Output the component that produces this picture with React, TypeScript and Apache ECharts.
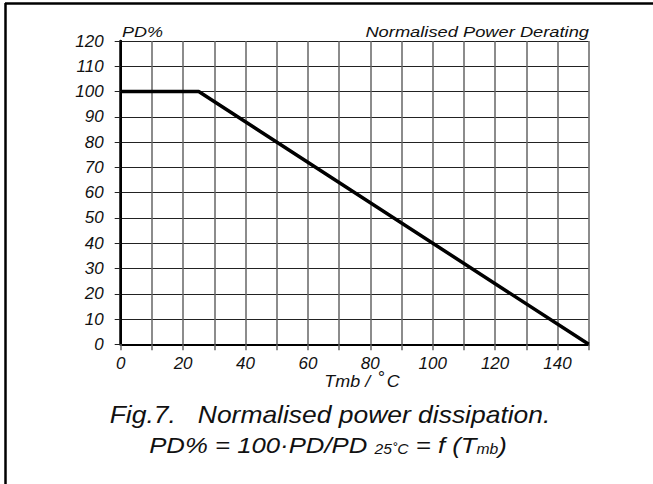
import React, { useEffect, useRef } from "react";
import * as echarts from "echarts";

const temperature = [0, 25, 150];
const powerPercent = [100, 100, 0];
const xLabelValues = [0, 20, 40, 60, 80, 100, 120, 140];
const yLabelValues = [0, 10, 20, 30, 40, 50, 60, 70, 80, 90, 100, 110, 120];

const yAxisTitle = "PD%";
const chartTitle = "Normalised Power Derating";
const captionLine1 = "Fig.7.   Normalised power dissipation.";

const FONT = "'Liberation Sans', Arial, Helvetica, sans-serif";

export default function App() {
  const ref = useRef<HTMLDivElement>(null);
  useEffect(() => {
    if (!ref.current) return;
    const chart = echarts.init(ref.current, null, { renderer: "svg" });
    const labelStyle = {
      fontFamily: FONT,
      fontStyle: "italic" as const,
      fontSize: 17,
      color: "#111",
    };
    chart.setOption({
      animation: false,
      backgroundColor: "#fff",
      grid: { left: 120.7, top: 41, right: 64.3, bottom: 139.7 },
      xAxis: {
        type: "value",
        min: 0,
        max: 150,
        interval: 10,
        axisLine: { show: true, onZero: false, lineStyle: { color: "#000", width: 2 } },
        axisTick: { show: true, length: 6, lineStyle: { color: "#666", width: 1.5 } },
        axisLabel: {
          ...labelStyle,
          margin: 11,
          formatter: (v: number) => (xLabelValues.includes(v) ? String(v) : ""),
        },
        splitLine: { show: true, lineStyle: { color: "#666", width: 1.5 } },
      },
      yAxis: [
        {
          type: "value",
          min: 0,
          max: 120,
          interval: 10,
          axisLine: { show: true, onZero: false, lineStyle: { color: "#000", width: 2 } },
          axisTick: { show: true, length: 6, lineStyle: { color: "#222", width: 1 } },
          axisLabel: {
            ...labelStyle,
            margin: 17,
            formatter: (v: number) => (yLabelValues.includes(v) ? String(v) : ""),
          },
          splitLine: { show: true, lineStyle: { color: "#222", width: 1 } },
        },
        {
          type: "value",
          position: "right",
          min: 0,
          max: 120,
          interval: 10,
          axisLine: { show: true, lineStyle: { color: "#000", width: 2.5 } },
          axisTick: { show: false },
          axisLabel: { show: false },
          splitLine: { show: false },
        },
      ],
      series: [
        {
          type: "line",
          data: temperature.map((t, i) => [t, powerPercent[i]]),
          symbol: "none",
          lineStyle: { color: "#000", width: 3.5 },
          z: 10,
        },
      ],
      graphic: [
        { type: "line", shape: { x1: 5, y1: 3.5, x2: 653, y2: 3.5 }, style: { stroke: "#000", lineWidth: 2.5 } },
        { type: "line", shape: { x1: 5.5, y1: 3, x2: 5.5, y2: 484 }, style: { stroke: "#000", lineWidth: 2.5 } },
        {
          type: "text",
          x: 122,
          y: 40,
          scaleX: 1.2,
          style: { text: yAxisTitle, font: `italic 15px ${FONT}`, fill: "#111", align: "left", verticalAlign: "bottom" },
        },
        {
          type: "text",
          x: 589,
          y: 40,
          scaleX: 1.22,
          style: { text: chartTitle, font: `italic 15px ${FONT}`, fill: "#111", align: "right", verticalAlign: "bottom" },
        },
        {
          type: "text",
          x: 362,
          y: 390,
          scaleX: 1.12,
          style: {
            text: "{a|Tmb / }{d|°}{a|C}",
            align: "center",
            verticalAlign: "bottom",
            rich: {
              a: { font: `italic 16px ${FONT}`, fill: "#111", lineHeight: 20, verticalAlign: "bottom" },
              d: { font: `italic 16px ${FONT}`, fill: "#111", lineHeight: 20, verticalAlign: "top", padding: [0, 2, 0, 2] },
            },
          },
        },
        {
          type: "text",
          x: 330,
          y: 427,
          scaleX: 1.15,
          style: { text: captionLine1, font: `italic 23px ${FONT}`, fill: "#111", align: "center", verticalAlign: "bottom" },
        },
        {
          type: "text",
          x: 328,
          y: 456,
          scaleX: 1.12,
          style: {
            text: "{a|PD% = 100·PD/PD }{s|25˚C}{a| = f (T}{s|mb}{a|)}",
            align: "center",
            verticalAlign: "bottom",
            rich: {
              a: { font: `italic 23px ${FONT}`, fill: "#111", lineHeight: 30, verticalAlign: "bottom" },
              s: { font: `italic 14px ${FONT}`, fill: "#111", lineHeight: 27, verticalAlign: "bottom" },
            },
          },
        },
      ],
    });
    return () => chart.dispose();
  }, []);
  return <div ref={ref} style={{ position: "absolute", left: 0, top: 0, width: 653, height: 484 }} />;
}
